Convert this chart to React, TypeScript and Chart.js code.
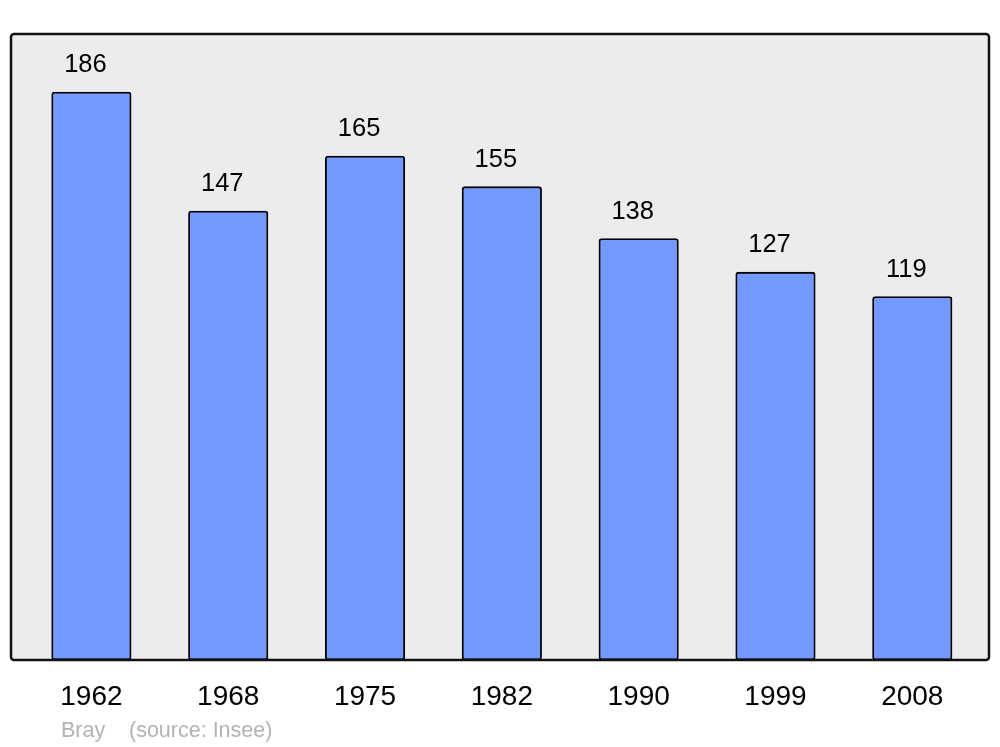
import React, { useEffect, useRef } from "react";
import { Chart, registerables } from "chart.js";

Chart.register(...registerables);

const years = ["1962", "1968", "1975", "1982", "1990", "1999", "2008"];
const population = [186, 147, 165, 155, 138, 127, 119];
const placeName = "Bray";
const sourceText = "(source: Insee)";

const FONT = "'Liberation Sans', Arial, sans-serif";

const boxPlugin = {
  id: "boxPlugin",
  beforeDraw(chart: any) {
    const { ctx, chartArea } = chart;
    const x0 = 11, x1 = 989, y0 = chartArea.top, y1 = chartArea.bottom;
    ctx.save();
    ctx.beginPath();
    ctx.roundRect(x0, y0, x1 - x0, y1 - y0, 3);
    ctx.fillStyle = "#ececec";
    ctx.fill();
    ctx.restore();
  },
  afterDatasetsDraw(chart: any) {
    const { ctx, chartArea } = chart;
    const x0 = 11, x1 = 989, y0 = chartArea.top, y1 = chartArea.bottom;
    ctx.save();
    ctx.beginPath();
    ctx.roundRect(x0, y0, x1 - x0, y1 - y0, 3);
    ctx.lineWidth = 2.5;
    ctx.strokeStyle = "#111";
    ctx.stroke();
    // value labels
    const meta = chart.getDatasetMeta(0);
    ctx.fillStyle = "#000";
    ctx.font = `25.5px ${FONT}`;
    ctx.textAlign = "center";
    ctx.textBaseline = "middle";
    meta.data.forEach((bar: any, i: number) => {
      ctx.fillText(String(population[i]), bar.x - 6, bar.y - 27);
    });
    // footer
    ctx.fillStyle = "#b3b3b3";
    ctx.font = `21.5px ${FONT}`;
    ctx.textAlign = "left";
    ctx.fillText(placeName, 61, 731);
    ctx.fillText(sourceText, 129, 731);
    ctx.restore();
  },
};

export default function App() {
  const ref = useRef<HTMLCanvasElement>(null);
  useEffect(() => {
    const chart = new Chart(ref.current!, {
      type: "bar",
      data: {
        labels: years,
        datasets: [
          {
            data: population,
            backgroundColor: "#7399ff",
            borderColor: "#000",
            borderWidth: 1.8,
            borderRadius: 3,
            borderSkipped: false,
            barThickness: 79.5,
          },
        ],
      },
      options: {
        animation: false,
        responsive: true,
        maintainAspectRatio: false,
        layout: { padding: { left: 23, right: 19.3, top: 34, bottom: 27 } },
        plugins: { legend: { display: false }, tooltip: { enabled: false } },
        scales: {
          x: {
            offset: true,
            grid: { display: false, drawTicks: false },
            border: { display: false },
            ticks: { color: "#000", font: { size: 28, family: FONT }, padding: 20, maxRotation: 0 },
            afterFit: (scale: any) => { scale.height = 60; },
          },
          y: { display: false, min: 0, max: 205 },
        },
      },
      plugins: [boxPlugin],
    });
    return () => chart.destroy();
  }, []);
  return (
    <div style={{ position: "absolute", left: 0, top: 0, width: 1000, height: 747, background: "#fff" }}>
      <canvas ref={ref} />
    </div>
  );
}
